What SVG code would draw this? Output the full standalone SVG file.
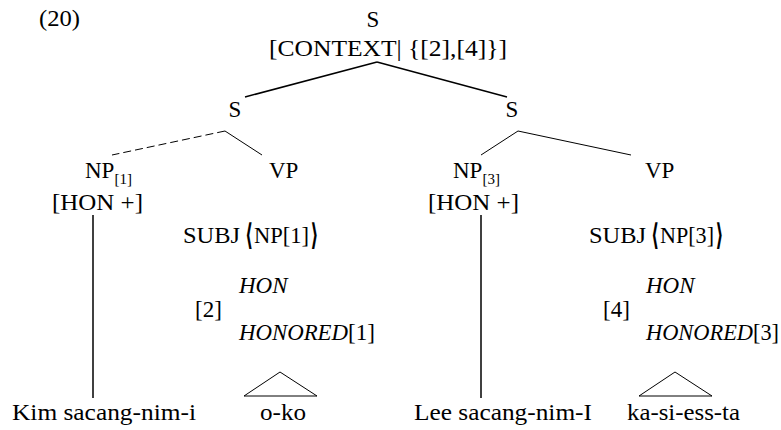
<svg xmlns="http://www.w3.org/2000/svg" width="781" height="430" viewBox="0 0 781 430">
<style>
text{font-family:"Liberation Serif","Times New Roman",serif;font-size:23px;fill:#000}
.it{font-style:italic}
.sub{font-size:15px}
.ang{font-family:"DejaVu Sans",sans-serif;font-size:30px;font-weight:bold}
.e{stroke:#000;fill:none;stroke-width:1}
.e2{stroke:#000;fill:none;stroke-width:1.5}
.dash{stroke-dasharray:8 4}
</style>
<rect width="781" height="430" fill="#fff"/>
<text id="label" x="39" y="26" textLength="41" lengthAdjust="spacingAndGlyphs">(20)</text>
<g id="connectors">
<line class="e2" x1="377" y1="62" x2="245" y2="97"/>
<line class="e2" x1="377" y1="62" x2="507" y2="97"/>
<line class="e dash" x1="225" y1="131" x2="112" y2="155"/>
<line class="e" x1="225" y1="131" x2="262" y2="155"/>
<line class="e" x1="518" y1="131" x2="481" y2="155"/>
<line class="e" x1="518" y1="131" x2="631" y2="155"/>
<line class="e2" x1="93" y1="215" x2="93" y2="398"/>
<line class="e2" x1="481" y1="215" x2="481" y2="398"/>
<polygon class="e" points="280,372 244,396 317,396"/>
<polygon class="e" points="675,372 639,396 712,396"/>
</g>
<g id="root">
<text x="373" y="27" text-anchor="middle">S</text>
<text x="269" y="56" textLength="238" lengthAdjust="spacingAndGlyphs">[CONTEXT| {[2],[4]}]</text>
</g>
<g id="s-left"><text x="235" y="117" text-anchor="middle">S</text></g>
<g id="s-right"><text x="512" y="117" text-anchor="middle">S</text></g>
<g id="np1">
<text x="85" y="178">NP<tspan class="sub" dy="6">[1]</tspan></text>
<text x="52" y="210" textLength="91" lengthAdjust="spacingAndGlyphs">[HON +]</text>
</g>
<g id="vp1">
<text x="269" y="178">VP</text>
<text y="243"><tspan x="183" textLength="57" lengthAdjust="spacingAndGlyphs">SUBJ</tspan><tspan class="ang" x="245" dy="2" textLength="8" lengthAdjust="spacingAndGlyphs">⟨</tspan><tspan x="254" dy="-2" textLength="55" lengthAdjust="spacingAndGlyphs">NP[1]</tspan><tspan class="ang" x="310.5" dy="2" textLength="8" lengthAdjust="spacingAndGlyphs">⟩</tspan></text>
<text class="it" x="239" y="293">HON</text>
<text x="195" y="317">[2]</text>
<text x="239" y="340"><tspan class="it" textLength="109" lengthAdjust="spacingAndGlyphs">HONORED</tspan><tspan x="348" textLength="27" lengthAdjust="spacingAndGlyphs">[1]</tspan></text>
</g>
<g id="np3">
<text x="453" y="178">NP<tspan class="sub" dy="6">[3]</tspan></text>
<text x="428" y="210" textLength="91" lengthAdjust="spacingAndGlyphs">[HON +]</text>
</g>
<g id="vp3">
<text x="645" y="178">VP</text>
<text y="243"><tspan x="589" textLength="57" lengthAdjust="spacingAndGlyphs">SUBJ</tspan><tspan class="ang" x="651" dy="2" textLength="8" lengthAdjust="spacingAndGlyphs">⟨</tspan><tspan x="660" dy="-2" textLength="54" lengthAdjust="spacingAndGlyphs">NP[3]</tspan><tspan class="ang" x="715.5" dy="2" textLength="8" lengthAdjust="spacingAndGlyphs">⟩</tspan></text>
<text class="it" x="646" y="293">HON</text>
<text x="603" y="317">[4]</text>
<text x="646" y="340"><tspan class="it" textLength="107" lengthAdjust="spacingAndGlyphs">HONORED</tspan><tspan x="753" textLength="26" lengthAdjust="spacingAndGlyphs">[3]</tspan></text>
</g>
<g id="w1"><text x="12" y="420" textLength="184" lengthAdjust="spacingAndGlyphs">Kim sacang-nim-i</text></g>
<g id="w2"><text x="260" y="420" textLength="46" lengthAdjust="spacingAndGlyphs">o-ko</text></g>
<g id="w3"><text x="414" y="420" textLength="178" lengthAdjust="spacingAndGlyphs">Lee sacang-nim-I</text></g>
<g id="w4"><text x="627" y="420" textLength="113" lengthAdjust="spacingAndGlyphs">ka-si-ess-ta</text></g>
</svg>
